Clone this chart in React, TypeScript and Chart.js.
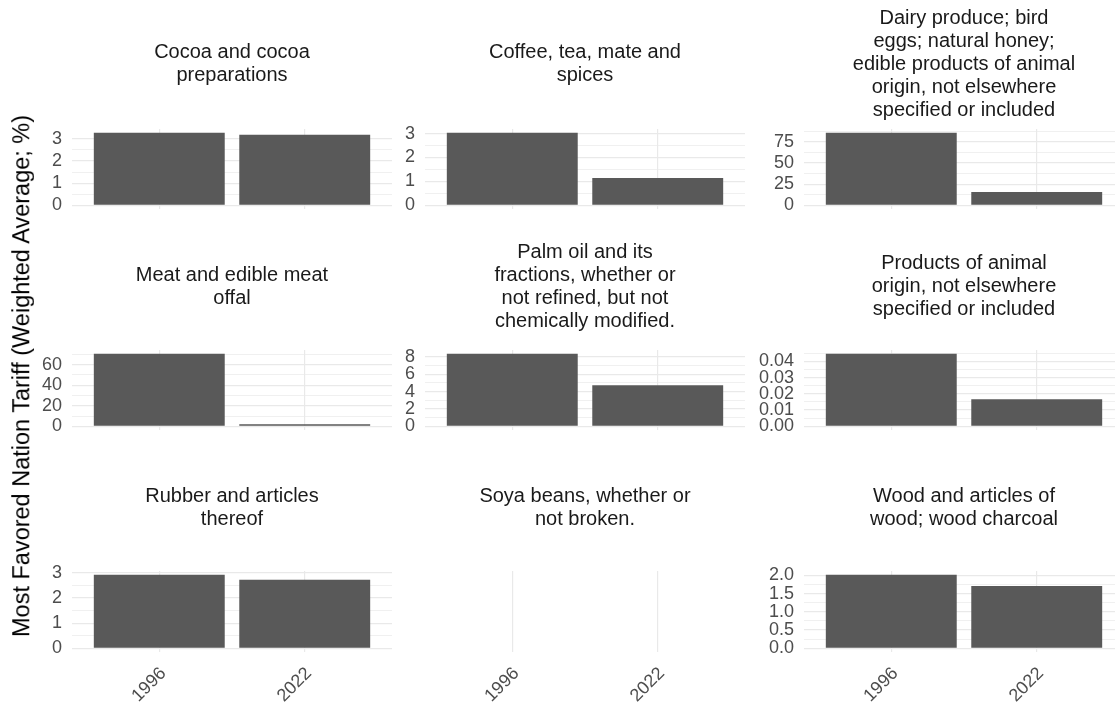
import React, { useEffect, useRef } from "react";
import { Chart, registerables } from "chart.js";

Chart.register(...registerables);

// ---------- data ----------
const years = ["1996", "2022"];

const cocoaTitle = ["Cocoa and cocoa", "preparations"];
const cocoaValues = [3.28, 3.19];
const cocoaTicks = ["0", "1", "2", "3"];

const coffeeTitle = ["Coffee, tea, mate and", "spices"];
const coffeeValues = [3.04, 1.14];
const coffeeTicks = ["0", "1", "2", "3"];

const dairyTitle = [
  "Dairy produce; bird",
  "eggs; natural honey;",
  "edible products of animal",
  "origin, not elsewhere",
  "specified or included",
];
const dairyValues = [85.7, 15.8];
const dairyTicks = ["0", "25", "50", "75"];

const meatTitle = ["Meat and edible meat", "offal"];
const meatValues = [70.7, 2.0];
const meatTicks = ["0", "20", "40", "60"];

const palmTitle = [
  "Palm oil and its",
  "fractions, whether or",
  "not refined, but not",
  "chemically modified.",
];
const palmValues = [8.37, 4.72];
const palmTicks = ["0", "2", "4", "6", "8"];

const productsTitle = [
  "Products of animal",
  "origin, not elsewhere",
  "specified or included",
];
const productsValues = [0.0447, 0.0167];
const productsTicks = ["0.00", "0.01", "0.02", "0.03", "0.04"];

const rubberTitle = ["Rubber and articles", "thereof"];
const rubberValues = [2.92, 2.72];
const rubberTicks = ["0", "1", "2", "3"];

const soyaTitle = ["Soya beans, whether or", "not broken."];
const soyaValues: (number | null)[] = [null, null];
const soyaTicks: string[] = [];

const woodTitle = ["Wood and articles of", "wood; wood charcoal"];
const woodValues = [2.02, 1.71];
const woodTicks = ["0.0", "0.5", "1.0", "1.5", "2.0"];

const yAxisTitle = "Most Favored Nation Tariff (Weighted Average; %)";

// ---------- layout ----------
const FONT = "'Liberation Sans', Arial, Helvetica, sans-serif";
const colLeft = [72, 425, 804];
const rowTop = [129, 350, 571];
const rowH = [80, 80, 81];
const stripH = [129, 130, 130];
const stripCenter = [64, 66.5, 66.5];
const AXIS_W = 70;
const PLOT_W = 320;
const LINE_H = 23;

type Panel = {
  title: string[];
  values: (number | null)[];
  ticks: string[];
  row: number;
  col: number;
};

const panels: Panel[] = [
  { title: cocoaTitle, values: cocoaValues, ticks: cocoaTicks, row: 0, col: 0 },
  { title: coffeeTitle, values: coffeeValues, ticks: coffeeTicks, row: 0, col: 1 },
  { title: dairyTitle, values: dairyValues, ticks: dairyTicks, row: 0, col: 2 },
  { title: meatTitle, values: meatValues, ticks: meatTicks, row: 1, col: 0 },
  { title: palmTitle, values: palmValues, ticks: palmTicks, row: 1, col: 1 },
  { title: productsTitle, values: productsValues, ticks: productsTicks, row: 1, col: 2 },
  { title: rubberTitle, values: rubberValues, ticks: rubberTicks, row: 2, col: 0 },
  { title: soyaTitle, values: soyaValues, ticks: soyaTicks, row: 2, col: 1 },
  { title: woodTitle, values: woodValues, ticks: woodTicks, row: 2, col: 2 },
];

function PanelChart({ p }: { p: Panel }) {
  const ref = useRef<HTMLCanvasElement>(null);
  const isBottom = p.row === 2;
  const xAxisH = isBottom ? 70 : 30;
  const width = AXIS_W + PLOT_W;
  const height = stripH[p.row] + rowH[p.row] + xAxisH;
  const left = colLeft[p.col] - AXIS_W;
  const top = rowTop[p.row] - stripH[p.row];

  useEffect(() => {
    if (!ref.current) return;
    const nums = p.values.filter((v) => v != null) as number[];
    const hasData = nums.length > 0;
    const vmax = hasData ? Math.max(...nums) : 1;
    const ymin = -0.05 * vmax;
    const ymax = 1.05 * vmax;
    const major = p.ticks.map(Number);
    const step = major.length > 1 ? major[1] - major[0] : 1;
    const yTickObjs: any[] = [];
    major.forEach((v, i) => yTickObjs.push({ value: v, isMajor: true, lab: p.ticks[i] }));
    if (major.length > 0) {
      for (let k = -1; k < major.length; k++) {
        const m = major[0] + (k + 0.5) * step;
        if (m >= ymin && m <= ymax) yTickObjs.push({ value: m, isMajor: false, lab: "" });
      }
    }
    yTickObjs.sort((a, b) => a.value - b.value);

    const n = p.title.length;
    const padTop = stripCenter[p.row] - (n * LINE_H) / 2;
    const padBottom = stripH[p.row] - padTop - n * LINE_H;

    const chart = new Chart(ref.current, {
      type: "bar",
      data: {
        datasets: [
          {
            data: p.values.map((v, i) => ({ x: i + 1, y: v })) as any,
            backgroundColor: "#595959",
            borderWidth: 0,
            categoryPercentage: 1,
            barPercentage: 0.9,
          },
        ],
      },
      options: {
        responsive: false,
        animation: false,
        devicePixelRatio: 1,
        layout: { padding: 0 },
        plugins: {
          legend: { display: false },
          tooltip: { enabled: false },
          title: {
            display: true,
            text: p.title,
            fullSize: false,
            color: "#1a1a1a",
            font: { family: FONT, size: 20, lineHeight: LINE_H / 20, weight: "normal" },
            padding: { top: padTop, bottom: padBottom },
          },
        },
        scales: {
          x: {
            type: "linear",
            min: 0.4,
            max: 2.6,
            offset: false,
            grid: { color: "#e9e9e9", lineWidth: 1.2, drawTicks: false, offset: false },
            border: { display: false },
            afterBuildTicks: (s: any) => {
              s.ticks = years.map((_, i) => ({ value: i + 1 }));
            },
            afterFit: (s: any) => {
              s.height = xAxisH;
            },
            ticks: {
              display: isBottom,
              autoSkip: false,
              minRotation: 45,
              maxRotation: 45,
              padding: 11,
              labelOffset: 4,
              color: "#4d4d4d",
              font: { family: FONT, size: 18 },
              callback: (_v: any, i: number) => years[i],
            },
          },
          y: {
            type: "linear",
            min: ymin,
            max: ymax,
            grid: {
              display: hasData,
              drawTicks: false,
              color: "#e9e9e9",
              lineWidth: (ctx: any) => (ctx.tick && ctx.tick.isMajor ? 1.2 : 0.7),
            },
            border: { display: false },
            afterBuildTicks: (s: any) => {
              s.ticks = yTickObjs.map((t) => ({ ...t }));
            },
            afterFit: (s: any) => {
              s.width = AXIS_W;
            },
            ticks: {
              display: hasData,
              autoSkip: false,
              padding: 10,
              color: "#4d4d4d",
              font: { family: FONT, size: 18 },
              callback: (_v: any, i: number, ts: any[]) => (ts[i] && ts[i].lab) || "",
            },
          },
        },
      } as any,
    });
    return () => chart.destroy();
  }, [p]);

  return (
    <canvas
      ref={ref}
      width={width}
      height={height}
      style={{ position: "absolute", left, top, width, height }}
    />
  );
}

export default function App() {
  return (
    <div
      style={{
        position: "fixed",
        left: 0,
        top: 0,
        width: 1115,
        height: 703,
        overflow: "hidden",
        background: "#ffffff",
      }}
    >
      {panels.map((p, i) => (
        <PanelChart key={i} p={p} />
      ))}
      <div
        style={{
          position: "absolute",
          left: 22,
          top: 376,
          transform: "translate(-50%, -50%) rotate(-90deg)",
          whiteSpace: "nowrap",
          fontFamily: FONT,
          fontSize: 23.5,
          color: "#000000",
          lineHeight: 1,
        }}
      >
        {yAxisTitle}
      </div>
    </div>
  );
}
